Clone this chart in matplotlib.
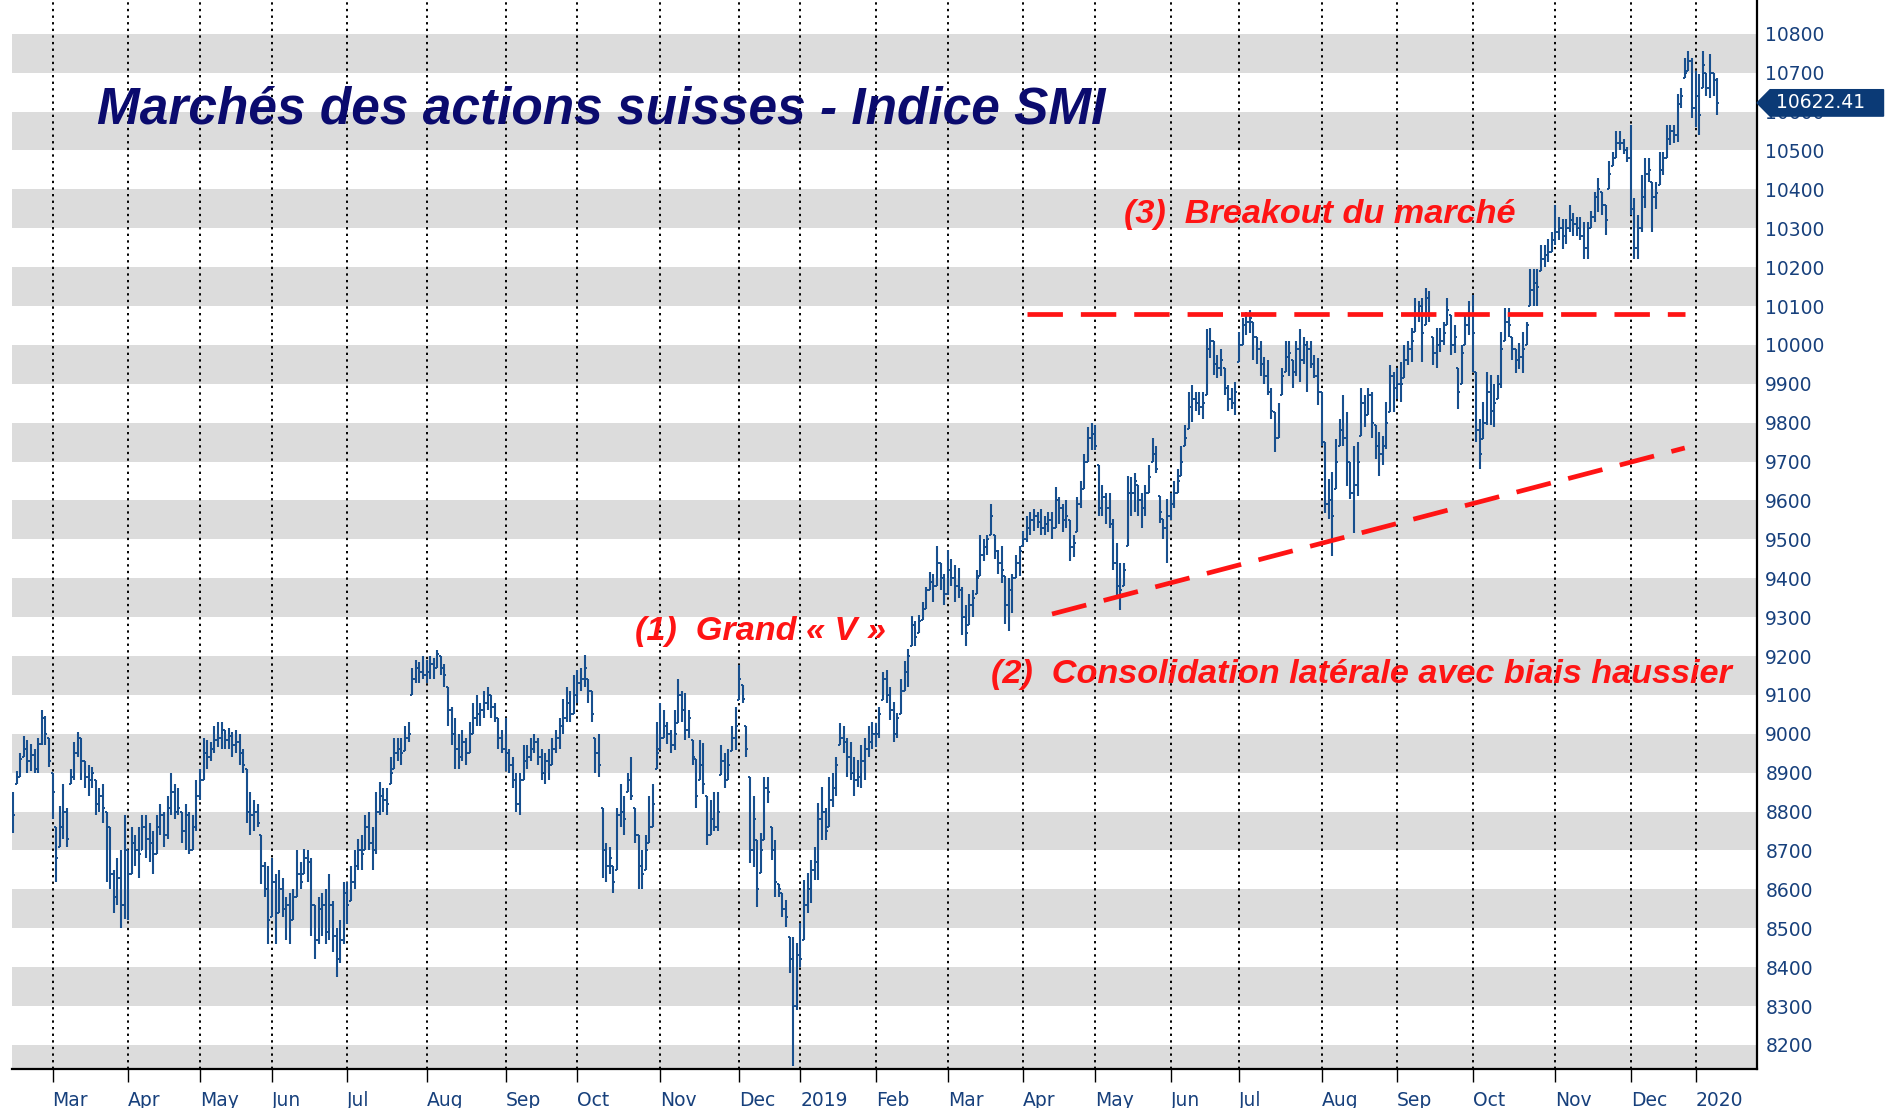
import numpy as np
import pandas as pd
import matplotlib
matplotlib.use("Agg")
import matplotlib.pyplot as plt
from matplotlib.patches import Polygon
import matplotlib.transforms as mtransforms

# ---------------- data ----------------
start_date = "2018-02-14"
end_date = "2020-01-13"
holidays = ["2018-03-30", "2018-04-02", "2018-05-01", "2018-05-10", "2018-05-21",
            "2018-08-01", "2018-12-24", "2018-12-25", "2018-12-26", "2018-12-31",
            "2019-01-01", "2019-01-02", "2019-04-19", "2019-04-22", "2019-05-01",
            "2019-05-30", "2019-06-10", "2019-08-01", "2019-12-24", "2019-12-25",
            "2019-12-26", "2019-12-31", "2020-01-01", "2020-01-02"]

closes = [
    # Feb 2018
    8790, 8890, 8935, 8960, 8930, 8945, 8910, 8975, 9040, 9000, 8930,
    # Mar
    8850, 8680, 8760, 8800, 8730, 8890, 8950, 8990, 8930, 8890, 8880, 8900, 8820, 8840, 8810, 8760, 8640, 8580, 8630, 8560, 8760,
    # Apr
    8640, 8720, 8700, 8690, 8760, 8730, 8720, 8690, 8760, 8790, 8740, 8810, 8850, 8800, 8810, 8750, 8790, 8700, 8760, 8840,
    # May
    8880, 8950, 8940, 8960, 8985, 8990, 9010, 8985, 8995, 8970, 8980, 8950, 8920, 8800, 8790, 8800, 8770, 8660, 8600, 8520,
    # Jun
    8620, 8540, 8600, 8550, 8560, 8520, 8580, 8640, 8620, 8680, 8670, 8560, 8470, 8550, 8560, 8490, 8560, 8480, 8420, 8470, 8590,
    # Jul
    8560, 8620, 8660, 8700, 8690, 8760, 8720, 8700, 8800, 8840, 8830, 8820, 8900, 8950, 8960, 8950, 8990, 9000, 9140, 9170, 9160, 9150,
    # Aug
    9160, 9180, 9170, 9205, 9170, 9150, 9060, 9000, 8960, 8940, 8980, 8950, 9000, 9040, 9050, 9060, 9080, 9100, 9070, 9040, 8990, 8960,
    # Sep
    8950, 8920, 8880, 8820, 8880, 8930, 8940, 8960, 8980, 8940, 8900, 8930, 8920, 8960, 8990, 9020, 9040, 9080, 9050, 9100,
    # Oct
    9130, 9140, 9170, 9110, 9050, 8950, 8920, 8700, 8660, 8680, 8620, 8790, 8800, 8780, 8880, 8840, 8740, 8660, 8640, 8700, 8760, 8820, 8950,
    # Nov
    8990, 9020, 9000, 8970, 9000, 9100, 9060, 9010, 9040, 8940, 8840, 8920, 8870, 8740, 8780, 8760, 8800, 8930, 8880, 8920, 8990, 9020,
    # Dec
    9140, 9090, 8960, 8700, 8780, 8600, 8700, 8860, 8850, 8700, 8620, 8600, 8550, 8530, 8420, 8300, 8430,
    # Jan 2019
    8420, 8560, 8600, 8650, 8670, 8780, 8800, 8750, 8830, 8860, 8920, 8990, 8980, 8940, 8900, 8880, 8890, 8930, 8960, 8980, 9000,
    # Feb
    9000, 9050, 9140, 9100, 9060, 9000, 9040, 9110, 9160, 9200, 9280, 9250, 9290, 9320, 9370, 9390, 9380, 9440, 9400, 9360,
    # Mar
    9420, 9400, 9380, 9370, 9300, 9260, 9330, 9350, 9400, 9460, 9480, 9500, 9560, 9470, 9440, 9420, 9330, 9370, 9400, 9440, 9470,
    # Apr
    9500, 9530, 9550, 9560, 9545, 9530, 9540, 9550, 9530, 9600, 9580, 9550, 9560, 9480, 9490, 9590, 9630, 9700, 9760, 9770,
    # May
    9740, 9580, 9610, 9580, 9540, 9440, 9380, 9370, 9420, 9620, 9620, 9650, 9600, 9580, 9620, 9660, 9720, 9680, 9570, 9530, 9560,
    # Jun
    9590, 9620, 9650, 9700, 9760, 9840, 9860, 9850, 9840, 9850, 9990, 10010, 9950, 9940, 9960, 9890, 9860, 9850, 9880,
    # Jul
    10000, 10050, 10060, 10070, 10020, 9990, 9950, 9920, 9880, 9830, 9760, 9810, 9920, 9970, 9980, 9930, 9990, 9960, 10000, 9990, 9950, 9920, 9880,
    # Aug
    9750, 9590, 9600, 9560, 9700, 9780, 9760, 9700, 9620, 9640, 9700, 9850, 9820, 9870, 9800, 9740, 9720, 9740, 9800, 9920, 9890,
    # Sep
    9900, 9900, 9960, 9990, 10010, 10080, 10100, 10030, 10120, 10080, 9980, 10000, 10010, 10030, 10090, 10000, 10020, 9880, 9980, 10050, 10080,
    # Oct
    10030, 9780, 9720, 9800, 9880, 9830, 9850, 9900, 9990, 10060, 10050, 9990, 9960, 9970, 9990, 10050, 10140, 10160, 10150, 10220, 10230, 10240, 10270,
    # Nov
    10290, 10300, 10280, 10300, 10320, 10310, 10300, 10280, 10250, 10300, 10330, 10380, 10400, 10360, 10320, 10440, 10480, 10520, 10520, 10500, 10480,
    # Dec
    10350, 10250, 10300, 10380, 10440, 10450, 10380, 10390, 10450, 10480, 10530, 10550, 10540, 10620, 10640, 10700, 10730, 10610,
    # Jan 2020
    10640, 10590, 10720, 10660, 10700, 10680, 10622.41,
]

highs = [
    8850, 8905, 8950, 8995, 8985, 8975, 8960, 8990, 9060, 9045, 8990,
    8900, 8760, 8815, 8870, 8810, 8910, 8980, 9005, 8990, 8930, 8920, 8915, 8880, 8860, 8870, 8800, 8760, 8650, 8680, 8700, 8790,
    8700, 8760, 8740, 8760, 8790, 8790, 8770, 8750, 8790, 8820, 8800, 8840, 8900, 8870, 8860, 8800, 8820, 8800, 8790, 8880,
    8910, 8990, 8985, 8980, 9020, 9030, 9030, 9010, 9015, 9005, 9010, 9000, 8960, 8910, 8850, 8830, 8820, 8740, 8670, 8660,
    8680, 8640, 8650, 8630, 8580, 8590, 8600, 8700, 8670, 8705, 8700, 8680, 8560, 8580, 8590, 8600, 8640, 8570, 8500, 8520, 8620,
    8620, 8660, 8700, 8730, 8740, 8790, 8800, 8760, 8850, 8875, 8860, 8860, 8940, 8990, 8990, 8990, 9020, 9030, 9170, 9190, 9185, 9200,
    9190, 9200, 9195, 9215, 9200, 9180, 9120, 9070, 9040, 9000, 9010, 8990, 9030, 9080, 9100, 9080, 9110, 9120, 9100, 9080, 9040, 9010,
    9040, 8960, 8940, 8900, 8900, 8970, 8970, 8990, 9000, 8990, 8960, 8950, 8960, 8990, 9010, 9040, 9090, 9120, 9110, 9150,
    9165, 9170, 9203, 9140, 9110, 8990, 9000, 8810, 8720, 8710, 8660, 8810, 8870, 8840, 8900, 8940, 8810, 8740, 8700, 8740, 8840, 8870, 9030,
    9080, 9060, 9030, 9010, 9060, 9140, 9110, 9104, 9060, 8985, 8935, 8985, 8976, 8840, 8830, 8850, 8850, 8970, 8950, 8960, 9020, 9070,
    9177, 9125, 9020, 8890, 8840, 8727, 8744, 8890, 8890, 8760, 8727, 8615, 8590, 8573, 8478, 8478, 8461,
    8513, 8624, 8641, 8676, 8710, 8821, 8864, 8810, 8890, 8900, 8940, 9027, 9020, 8990, 8980, 8940, 8933, 8970, 8990, 9019, 9030,
    9027, 9070, 9160, 9165, 9121, 9083, 9054, 9140, 9188, 9217, 9302, 9290, 9305, 9340, 9378, 9416, 9410, 9483, 9440, 9410,
    9473, 9450, 9435, 9426, 9378, 9330, 9359, 9370, 9420, 9511, 9502, 9510, 9590, 9510, 9473, 9483, 9407, 9400, 9410, 9460, 9483,
    9521, 9560, 9570, 9578, 9570, 9578, 9560, 9570, 9570, 9635, 9610, 9590, 9600, 9549, 9510, 9610, 9650, 9720, 9790, 9800,
    9795, 9690, 9640, 9620, 9620, 9552, 9491, 9440, 9440, 9664, 9660, 9670, 9640, 9620, 9640, 9690, 9760, 9740, 9612, 9552, 9603,
    9620, 9650, 9680, 9741, 9793, 9879, 9897, 9880, 9880, 9880, 10040, 10043, 10009, 9975, 9990, 9940, 9897, 9890, 9905,
    10034, 10069, 10085, 10090, 10060, 10020, 10009, 9970, 9960, 9888, 9828, 9850, 9940, 10009, 10009, 9960, 10009, 10040, 10020, 10009, 10009, 9974, 9966,
    9880, 9750, 9655, 9672, 9759, 9810, 9871, 9828, 9700, 9741, 9750, 9888, 9870, 9888, 9880, 9793, 9776, 9767, 9853, 9948, 9931,
    9940, 9957, 10000, 10009, 10043, 10121, 10112, 10121, 10147, 10138, 10020, 10043, 10043, 10060, 10121, 10078, 10050, 9940, 10000, 10078, 10112,
    10129, 9931, 9810, 9853, 9931, 9922, 9900, 9922, 10034, 10095, 10095, 10020, 9990, 10006, 10032, 10058, 10196, 10196, 10196, 10256, 10256, 10273, 10290,
    10360, 10330, 10325, 10325, 10360, 10340, 10330, 10330, 10316, 10316, 10345, 10394, 10428, 10393, 10360, 10472, 10497, 10549, 10549, 10530, 10510,
    10566, 10377, 10334, 10437, 10480, 10480, 10420, 10420, 10497, 10497, 10566, 10566, 10566, 10644, 10660, 10739, 10756, 10739,
    10704, 10696, 10756, 10700, 10747, 10700, 10687,
]

lows = [
    8745, 8870, 8890, 8940, 8900, 8905, 8900, 8900, 8970, 8970, 8915,
    8780, 8620, 8710, 8730, 8710, 8870, 8880, 8940, 8880, 8860, 8840, 8860, 8790, 8800, 8770, 8620, 8600, 8540, 8560, 8500, 8525,
    8520, 8640, 8660, 8630, 8700, 8680, 8670, 8640, 8690, 8740, 8710, 8730, 8790, 8780, 8790, 8720, 8700, 8690, 8700, 8750,
    8830, 8880, 8910, 8930, 8950, 8965, 8960, 8960, 8960, 8940, 8950, 8920, 8900, 8770, 8740, 8750, 8760, 8615, 8580, 8460,
    8530, 8460, 8540, 8530, 8470, 8460, 8520, 8580, 8600, 8640, 8620, 8480, 8420, 8460, 8480, 8460, 8470, 8440, 8375, 8410, 8460,
    8510, 8570, 8600, 8650, 8650, 8700, 8700, 8650, 8690, 8790, 8800, 8790, 8870, 8910, 8930, 8920, 8955, 8980, 9100, 9130, 9130, 9140,
    9130, 9140, 9140, 9170, 9150, 9120, 9020, 8970, 8910, 8910, 8930, 8920, 8950, 9000, 9020, 9020, 9040, 9060, 9040, 9030, 8960, 8950,
    8905, 8900, 8860, 8800, 8790, 8880, 8910, 8930, 8950, 8920, 8880, 8870, 8880, 8920, 8950, 8960, 9000, 9030, 9030, 9050,
    9080, 9110, 9120, 9080, 9030, 8900, 8890, 8630, 8620, 8640, 8590, 8650, 8760, 8740, 8850, 8830, 8720, 8600, 8600, 8650, 8720, 8760, 8910,
    8960, 8990, 8975, 8950, 8958, 9027, 9030, 8984, 8990, 8920, 8810, 8880, 8845, 8715, 8740, 8750, 8750, 8895, 8860, 8880, 8955, 8958,
    9087, 9079, 8941, 8667, 8658, 8555, 8641, 8727, 8822, 8676, 8581, 8581, 8530, 8504, 8384, 8145, 8289,
    8401, 8470, 8538, 8564, 8624, 8624, 8727, 8727, 8760, 8813, 8839, 8970, 8950, 8890, 8880, 8840, 8864, 8860, 8880, 8941, 8960,
    8967, 8990, 9087, 9080, 9036, 8978, 8988, 9050, 9110, 9121, 9226, 9226, 9260, 9292, 9321, 9369, 9340, 9379, 9370, 9330,
    9358, 9380, 9340, 9350, 9254, 9226, 9280, 9300, 9360, 9406, 9445, 9460, 9511, 9450, 9410, 9388, 9283, 9264, 9310, 9400, 9406,
    9483, 9492, 9510, 9521, 9530, 9510, 9510, 9520, 9500, 9530, 9540, 9520, 9530, 9445, 9454, 9520, 9580, 9630, 9700, 9730,
    9730, 9560, 9560, 9540, 9530, 9422, 9353, 9319, 9380, 9483, 9560, 9570, 9560, 9530, 9560, 9620, 9700, 9670, 9543, 9500, 9440,
    9550, 9580, 9620, 9664, 9741, 9784, 9802, 9830, 9820, 9810, 9871, 9966, 9922, 9915, 9920, 9871, 9830, 9836, 9819,
    9957, 10000, 10026, 10030, 9960, 9950, 9920, 9900, 9871, 9810, 9724, 9760, 9871, 9930, 9920, 9890, 9920, 9905, 9950, 9880, 9940, 9914, 9845,
    9741, 9569, 9552, 9457, 9629, 9741, 9740, 9638, 9603, 9517, 9612, 9767, 9790, 9820, 9760, 9707, 9664, 9690, 9733, 9828, 9828,
    9860, 9853, 9914, 9948, 9957, 10034, 10060, 9957, 10052, 10060, 9948, 9940, 9983, 10000, 10052, 9974, 9980, 9836, 9900, 10000, 10026,
    9931, 9750, 9681, 9759, 9793, 9793, 9790, 9860, 9888, 10009, 10020, 9960, 9928, 9937, 9928, 10000, 10101, 10101, 10101, 10190, 10200, 10213, 10239,
    10256, 10270, 10247, 10260, 10290, 10280, 10280, 10270, 10222, 10222, 10300, 10316, 10342, 10334, 10282, 10400, 10460, 10480, 10500, 10490, 10470,
    10334, 10222, 10222, 10290, 10351, 10420, 10290, 10350, 10411, 10437, 10480, 10515, 10520, 10523, 10610, 10687, 10704, 10584,
    10560, 10540, 10661, 10640, 10635, 10640, 10592,
]

first_open = 8830
ytick_values = list(range(8200, 10900, 100))
month_names = ["Jan", "Feb", "Mar", "Apr", "May", "Jun", "Jul", "Aug", "Sep", "Oct", "Nov", "Dec"]

title_text = "Marchés des actions suisses - Indice SMI"
notes = [
    ("(1)  Grand « V »", "2018-10-23", 9262),
    ("(2)  Consolidation latérale avec biais haussier", "2019-03-19", 9152),
    ("(3)  Breakout du marché", "2019-05-14", 10336),
]
resistance_level = 10080
resistance_dates = ("2019-04-02", "2019-12-23")
support_dates = ("2019-04-11", "2019-12-23")
support_levels = (9308, 9735)
last_price_label = "10622.41"

# ---------------- layout ----------------
NAVY = "#17407c"
BAR = "#174f8e"
TITLE = "#0b0b6e"
RED = "#ff1414"

dates = pd.date_range(start_date, end_date, freq=pd.offsets.CustomBusinessDay(holidays=holidays))
n = min(len(dates), len(closes), len(highs), len(lows))
dates = dates[:n]
c = np.array(closes[:n], dtype=float)
h = np.array(highs[:n], dtype=float)
l = np.array(lows[:n], dtype=float)
o = np.clip(np.concatenate([[first_open], c[:-1]]), l, h)
x = np.arange(n)

def pos(d):
    return int(np.searchsorted(dates.values, np.datetime64(pd.Timestamp(d))))

fig = plt.figure(figsize=(18.99, 11.08), dpi=100)
W, H = 1899.0, 1108.0
ax_l, ax_r, ax_b = 12.0, 1757.0, 1069.0
ax = fig.add_axes([ax_l / W, (H - ax_b) / H, (ax_r - ax_l) / W, ax_b / H])

ax.set_xlim(-0.3, n - 1 + 11.1)
ax.set_ylim(8138, 10887)

# gray bands
for lo in range(8100, 10800, 200):
    ax.axhspan(lo, lo + 100, color="#dcdcdc", lw=0, zorder=0)

# month gridlines
per = pd.Series(dates.to_period("M"))
first_idx = per.drop_duplicates().index.tolist()
mpos, mlab = [], []
for i in first_idx:
    d = dates[i]
    if i == 0 and d.day > 7:
        continue
    mpos.append(i)
    mlab.append(str(d.year) if d.month == 1 else month_names[d.month - 1])
for p in mpos:
    ax.axvline(p, color="black", lw=1.4, ls=(0, (1.2, 2.2)), zorder=1)

# OHLC bars
ax.vlines(x, l, h, color=BAR, lw=1.5, zorder=3)
ax.hlines(o, x - 0.55, x, color=BAR, lw=1.4, zorder=3)
ax.hlines(c, x, x + 0.55, color=BAR, lw=1.4, zorder=3)

# trend lines
ax.plot([pos(resistance_dates[0]), pos(resistance_dates[1])], [resistance_level] * 2,
        color=RED, lw=3.4, ls=(0, (7.5, 3.8)), zorder=4)
ax.plot([pos(support_dates[0]), pos(support_dates[1])], list(support_levels),
        color=RED, lw=3.4, ls=(0, (7.5, 3.8)), zorder=4)

# texts
ax.text(0.0487, 0.8975, title_text, transform=ax.transAxes, ha="left", va="center",
        fontsize=37, fontweight="bold", fontstyle="italic", color=TITLE,
        family="Liberation Sans", zorder=5)
for txt, d, yv in notes:
    ax.text(pos(d), yv, txt, ha="left", va="center", fontsize=24.7, fontweight="bold",
            fontstyle="italic", color=RED, family="Liberation Sans", zorder=5)

# axes styling
for s in ["left", "top"]:
    ax.spines[s].set_visible(False)
for s in ["right", "bottom"]:
    ax.spines[s].set_color("black")
    ax.spines[s].set_linewidth(1.6)
ax.yaxis.tick_right()
ax.set_yticks(ytick_values)
ax.set_yticklabels([str(v) for v in ytick_values])
ax.tick_params(axis="y", length=0, pad=6, labelcolor=NAVY, labelsize=13.5)
ax.set_xticks(mpos)
ax.set_xticklabels(mlab)
ax.tick_params(axis="x", direction="out", length=9, width=1.0, color="black",
               pad=7, labelcolor=NAVY, labelsize=13.5)
for t in ax.get_xticklabels():
    t.set_ha("left")

# last price marker
trans = mtransforms.blended_transform_factory(ax.transAxes, ax.transData)
lp = c[-1]
hh = 34
poly = Polygon([(1.0, lp), (1.0075, lp + hh), (1.0725, lp + hh), (1.0725, lp - hh), (1.0075, lp - hh)],
               closed=True, transform=trans, clip_on=False, color="#0b3a76", zorder=6)
ax.add_patch(poly)
ax.text(1.011, lp, last_price_label, transform=trans, ha="left", va="center",
        color="white", fontsize=13.5, clip_on=False, zorder=7)

fig.savefig("out.png", dpi=100)
